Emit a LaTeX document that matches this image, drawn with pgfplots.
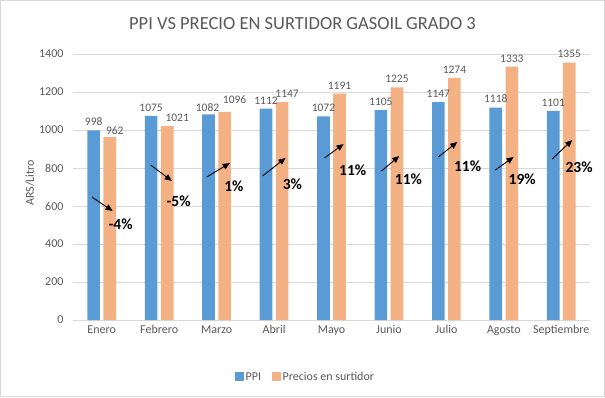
\documentclass[border=0pt]{standalone}
\usepackage{pgfplots}
\pgfplotsset{compat=1.18}
\usepackage{pgfplotstable}
\usepackage{fontspec}
\setmainfont{Carlito}
\usetikzlibrary{arrows.meta}
\definecolor{ppi}{HTML}{5B9BD5}
\definecolor{surt}{HTML}{F4B183}
\definecolor{txt}{HTML}{595959}
\definecolor{gridc}{HTML}{D9D9D9}
\pgfplotstableread{
x ppi dxp dyp surt dxs dys
0 998  0 1 962  5 -1
1 1075 0 1 1021 10 1
2 1082 -1 -1 1096 10 5
3 1112 0 1 1147 5 1
4 1072 0 1 1191 0 1
5 1105 0 1 1225 0 1
6 1147 0 1 1274 0 1
7 1118 0 1 1333 0 1
8 1101 0 1 1355 0 1
}\data
\begin{document}
\begin{tikzpicture}
\useasboundingbox (0pt,0pt) rectangle (605pt,397pt);
\draw[gridc,line width=0.75pt] (0.5pt,0.5pt) rectangle (604.5pt,396.5pt);
\node[text=txt,font=\fontsize{18.5}{22}\selectfont] at (302.5pt,373pt) {PPI VS PRECIO EN SURTIDOR GASOIL GRADO 3};
\node[text=txt,rotate=90,font=\fontsize{12}{14}\selectfont] at (30pt,214pt) {ARS/Litro};
\begin{axis}[
  at={(73pt,77pt)}, anchor=south west,
  scale only axis, width=517pt, height=266pt,
  xmin=-0.5, xmax=8.5, ymin=0, ymax=1400,
  ytick={0,200,...,1400},
  /pgf/number format/.cd, 1000 sep={}, assume math mode=true, /pgfplots/.cd,
  ymajorgrids, grid style={gridc, line width=0.75pt},
  axis line style={draw=none},
  major tick length=0pt,
  xtick=data,
  xticklabels={Enero,Febrero,Marzo,Abril,Mayo,Junio,Julio,Agosto,Septiembre},
  tick label style={text=txt, font=\fontsize{12}{14}\selectfont},
  yticklabel style={xshift=-6pt},
  xticklabel style={yshift=-2pt},
  ybar, bar width=0.22,
  nodes near coords,
  every node near coord/.append style={text=txt, font=\fontsize{11.5}{13}\selectfont},
  legend style={at={(0.45,-0.214)}, anchor=center, draw=none, legend columns=2,
    font=\fontsize{12}{14}\selectfont, text=txt,
    /tikz/every even column/.append style={column sep=9pt}},
  legend image code/.code={\fill[#1] (0pt,-4.5pt) rectangle (8.5pt,4.5pt);},
  clip=false,
]
\addplot[fill=ppi, draw=none, bar shift=-0.14,
  visualization depends on={\thisrow{dxp} \as \labdx},
  visualization depends on={\thisrow{dyp} \as \labdy},
  every node near coord/.append style={shift={(\labdx pt,\labdy pt)}}]
  table[x=x, y=ppi] {\data};
\addplot[fill=surt, draw=none, bar shift=0.14,
  visualization depends on={\thisrow{dxs} \as \labdx},
  visualization depends on={\thisrow{dys} \as \labdy},
  every node near coord/.append style={shift={(\labdx pt,\labdy pt)}}]
  table[x=x, y=surt] {\data};
\legend{PPI, Precios en surtidor}
% change arrows and labels
\begin{scope}[-{Triangle[length=7pt,width=6pt]}, line width=0.9pt, black]
\draw (axis cs:-0.17,647) -- (axis cs:0.19,574);
\draw (axis cs:0.85,816) -- (axis cs:1.22,732);
\draw (axis cs:1.83,753) -- (axis cs:2.23,826);
\draw (axis cs:2.80,758) -- (axis cs:3.20,853);
\draw (axis cs:3.88,853) -- (axis cs:4.21,926);
\draw (axis cs:4.87,784) -- (axis cs:5.18,863);
\draw (axis cs:5.86,858) -- (axis cs:6.19,937);
\draw (axis cs:6.85,789) -- (axis cs:7.17,858);
\draw (axis cs:7.84,847) -- (axis cs:8.19,947);
\end{scope}
\begin{scope}[every node/.style={font=\fontsize{15.5}{18}\selectfont\bfseries, text=black}]
\node at (axis cs:0.33,505) {-4\%};
\node at (axis cs:1.34,626) {-5\%};
\node at (axis cs:2.30,705) {1\%};
\node at (axis cs:3.32,716) {3\%};
\node at (axis cs:4.37,789) {11\%};
\node at (axis cs:5.34,742) {11\%};
\node at (axis cs:6.37,810) {11\%};
\node at (axis cs:7.32,742) {19\%};
\node at (axis cs:8.31,805) {23\%};
\end{scope}
\end{axis}
\end{tikzpicture}
\end{document}
